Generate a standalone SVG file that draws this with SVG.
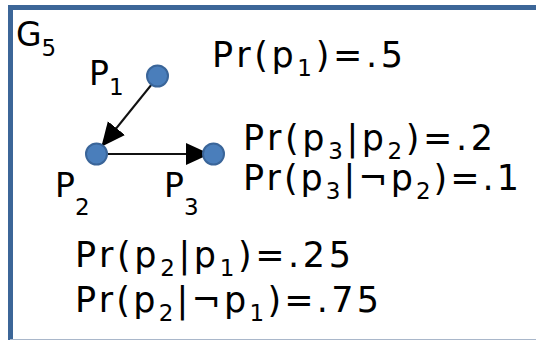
<svg xmlns="http://www.w3.org/2000/svg" width="536" height="340" viewBox="0 0 536 340">
<style>
text{font-family:"DejaVu Sans","Verdana",sans-serif;fill:#000}
.main{font-size:35px}
.sub{font-size:23px}
.lbl{font-size:33px}
.lsub{font-size:23px}
.node{fill:#4a7ebb;stroke:#3a6599;stroke-width:2}
.edge{stroke:#111;stroke-width:2;fill:none}
</style>
<defs>
<marker id="ah2" viewBox="0 0 24 24" markerWidth="24" markerHeight="24" refX="23" refY="12" orient="auto" markerUnits="userSpaceOnUse">
<path d="M0,1 L24,12 L0,23 z" fill="#000"/>
</marker>
</defs>
<rect x="0" y="0" width="536" height="340" fill="#fff"/>
<path d="M10.5,345 L10.5,7.5 L545,7.5" fill="none" stroke="#3c6698" stroke-width="5"/>
<line x1="10" y1="339.5" x2="536" y2="339.5" stroke="#a9b7ca" stroke-width="1"/>
<text x="16" y="46" font-size="33">G<tspan font-size="23" dy="10">5</tspan></text>
<g id="connectors">
<line class="edge" x1="152" y1="84" x2="102" y2="146" marker-end="url(#ah2)"/>
<line class="edge" x1="108" y1="154" x2="209" y2="154" marker-end="url(#ah2)"/>
</g>
<g id="P1">
<circle class="node" cx="157.5" cy="76" r="10.5"/>
<text class="lbl" x="89" y="85">P<tspan class="lsub" dy="10">1</tspan></text>
</g>
<g id="P2">
<circle class="node" cx="96.5" cy="154" r="10.5"/>
<text class="lbl" x="55" y="197">P<tspan class="lsub" dy="18">2</tspan></text>
</g>
<g id="P3">
<circle class="node" cx="213.5" cy="154" r="10.5"/>
<text class="lbl" x="164" y="197">P<tspan class="lsub" dy="18">3</tspan></text>
</g>
<g id="probs">
<text class="main" x="212" y="67" textLength="191" lengthAdjust="spacing">Pr(p<tspan class="sub" dy="9">1</tspan><tspan dy="-9">)=.5</tspan></text>
<text class="main" x="243" y="150" textLength="250" lengthAdjust="spacing">Pr(p<tspan class="sub" dy="9">3</tspan><tspan dy="-9">|p</tspan><tspan class="sub" dy="9">2</tspan><tspan dy="-9">)=.2</tspan></text>
<text class="main" x="243" y="190" textLength="276" lengthAdjust="spacing">Pr(p<tspan class="sub" dy="9">3</tspan><tspan dy="-9">|¬p</tspan><tspan class="sub" dy="9">2</tspan><tspan dy="-9">)=.1</tspan></text>
<text class="main" x="75" y="267" textLength="276" lengthAdjust="spacing">Pr(p<tspan class="sub" dy="9">2</tspan><tspan dy="-9">|p</tspan><tspan class="sub" dy="9">1</tspan><tspan dy="-9">)=.25</tspan></text>
<text class="main" x="75" y="312" textLength="304" lengthAdjust="spacing">Pr(p<tspan class="sub" dy="9">2</tspan><tspan dy="-9">|¬p</tspan><tspan class="sub" dy="9">1</tspan><tspan dy="-9">)=.75</tspan></text>
</g>
</svg>
